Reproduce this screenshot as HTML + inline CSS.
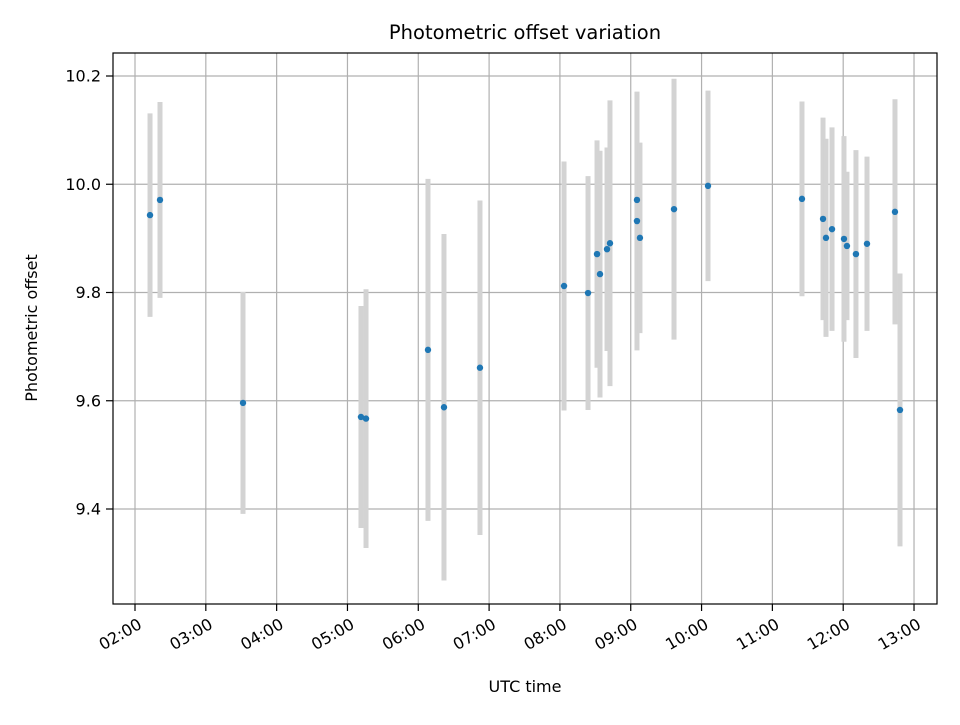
<!DOCTYPE html>
<html><head><meta charset="utf-8"><style>
body{margin:0;background:#fff}
svg text{font-family:"DejaVu Sans","Liberation Sans",sans-serif;fill:#000}
</style></head><body>
<svg id="chart" width="960" height="720" xmlns="http://www.w3.org/2000/svg">
<rect x="0" y="0" width="960" height="720" fill="#fff"/>
<g id="grid"></g>
<g id="bars"></g>
<g id="pts"></g>
<rect x="113" y="53" width="824" height="551" fill="none" stroke="#000" stroke-width="1.2"/>
<g id="axes"></g>
<text x="525" y="39" text-anchor="middle" font-size="19.5">Photometric offset variation</text>
<text x="525" y="692" text-anchor="middle" font-size="16">UTC time</text>
<text transform="translate(37,328) rotate(-90)" text-anchor="middle" font-size="16">Photometric offset</text>
</svg>
<script>
const times = [2.212,2.353,3.525,5.191,5.262,6.137,6.363,6.871,8.058,8.397,8.524,8.566,8.665,8.707,9.088,9.088,9.130,9.611,10.091,11.418,11.715,11.757,11.842,12.011,12.053,12.180,12.336,12.731,12.802];
const offsets = [9.943,9.971,9.596,9.570,9.567,9.694,9.588,9.661,9.812,9.799,9.871,9.834,9.880,9.891,9.971,9.932,9.901,9.954,9.997,9.973,9.936,9.901,9.917,9.899,9.886,9.871,9.890,9.949,9.583];
const errors = [0.188,0.181,0.205,0.205,0.239,0.316,0.320,0.309,0.230,0.216,0.210,0.228,0.188,0.264,0.200,0.239,0.176,0.241,0.176,0.180,0.187,0.183,0.188,0.190,0.137,0.192,0.161,0.208,0.252];
const xTickHours = [2,3,4,5,6,7,8,9,10,11,12,13];
const xTickLabels = ["02:00","03:00","04:00","05:00","06:00","07:00","08:00","09:00","10:00","11:00","12:00","13:00"];
const yTicks = [9.4,9.6,9.8,10.0,10.2];
const yTickLabels = ["9.4","9.6","9.8","10.0","10.2"];

const X = h => 135 + (h-2)*70.82;
const Y = v => 76 + (10.2-v)*541.25;
const NS = "http://www.w3.org/2000/svg";
function mk(parent, tag, attrs){const e=document.createElementNS(NS,tag);for(const k in attrs)e.setAttribute(k,attrs[k]);document.getElementById(parent).appendChild(e);return e;}

xTickHours.forEach((h,i)=>{
  const x=X(h);
  const g=mk('grid','line',{x1:x,x2:x,y1:53,y2:604,stroke:'#b0b0b0','stroke-width':1.2});
  
  
  const t=mk('axes','line',{x1:x,x2:x,y1:604,y2:611,stroke:'#000','stroke-width':1.2});
  
  
  const l=mk('axes','text',{'font-size':16,'text-anchor':'end',transform:`translate(${x+2},${617}) rotate(-30)`,dy:'0.75em'});
  l.textContent=xTickLabels[i];
  
  
});
yTicks.forEach((v,i)=>{
  const y=Y(v);
  const g=mk('grid','line',{x1:113,x2:937,y1:y,y2:y,stroke:'#b0b0b0','stroke-width':1.2});
  
  
  const t=mk('axes','line',{x1:106,x2:113,y1:y,y2:y,stroke:'#000','stroke-width':1.2});
  
  
  const l=mk('axes','text',{x:101,y:y+5.5,'font-size':16,'text-anchor':'end'});
  l.textContent=yTickLabels[i];
  
  
});
times.forEach((h,i)=>{
  const x=X(h);
  const b=mk('bars','line',{x1:x,x2:x,y1:Y(offsets[i]+errors[i]),y2:Y(offsets[i]-errors[i]),stroke:'#d3d3d3','stroke-width':5});
  
  
});
times.forEach((h,i)=>{
  const c=mk('pts','circle',{cx:X(h),cy:Y(offsets[i]),r:3.2,fill:'#1f77b4'});
  
  
});
</script>
</body></html>
